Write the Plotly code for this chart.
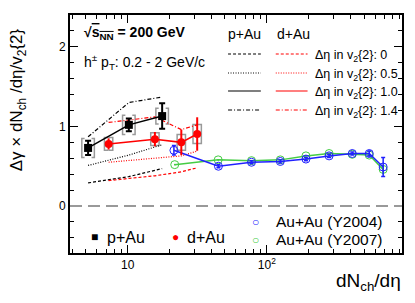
import plotly.graph_objects as go

# ---------------- data ----------------
pAu_x = [5.2, 10.2, 17.7]
pAu_y = [0.73, 1.02, 1.13]
pAu_err = [0.09, 0.08, 0.16]
pAu_sys = [0.12, 0.12, 0.10]
pAu_eta0 = [0.29, 0.37, 0.47]
pAu_eta05 = [0.51, 0.64, 0.77]
pAu_eta14 = [0.87, 1.30, 1.37]

dAu_x = [7.3, 15.7, 24.3, 31.6]
dAu_y = [0.78, 0.84, 0.80, 0.905]
dAu_err = [0.07, 0.09, 0.16, 0.21]
dAu_sys = [0.08, 0.08, 0.10, 0.12]
dAu_eta0 = [0.32, 0.38, 0.43, 0.48]
dAu_eta05 = [0.55, 0.60, 0.63, 0.69]
dAu_eta14 = [1.05, 1.12, 0.96, 1.02]

AuAu04_x = [21.5, 44.9, 77.6, 125, 191, 280, 411, 544, 685]
AuAu04_y = [0.70, 0.50, 0.55, 0.56, 0.59, 0.63, 0.66, 0.66, 0.49]
AuAu04_err = [0.06, 0.02, 0.02, 0.02, 0.02, 0.02, 0.02, 0.03, 0.12]

AuAu07_x = [21.8, 44.7, 77.6, 125, 191, 280, 411, 544, 685]
AuAu07_y = [0.52, 0.58, 0.57, 0.58, 0.63, 0.66, 0.65, 0.64, 0.46]
AuAu07_err = [0.01, 0.01, 0.01, 0.01, 0.01, 0.01, 0.01, 0.02, 0.06]

x_tickvals = [10, 100]
x_ticktext = ["10", "10<sup>2</sup>"]
y_tickvals = [0, 1, 2]

# ---------------- styles ----------------
BLACK = "#000000"
RED = "#ff0000"
BLUE = "#2020ff"
GREEN = "#44cc44"
GRAY = "#999999"
FONT = "Liberation Sans, Arial, sans-serif"
DASH0 = "3px,2px"
DASH05 = "1px,1.5px"
DASH14 = "4px,2px,1px,2px"
LW = 1.2

fig = go.Figure()


def brackets(xs, ys, sys, fac, arm):
    bx, by = [], []
    for x, y, s in zip(xs, ys, sys):
        xl, xr = x / fac, x * fac
        xla, xra = x / fac * arm, x * fac / arm
        bx += [xla, xl, xl, xla, None, xra, xr, xr, xra, None]
        by += [y + s, y + s, y - s, y - s, None, y + s, y + s, y - s, y - s, None]
    return bx, by


# systematic brackets
bx, by = brackets(pAu_x, pAu_y, pAu_sys, 10 ** 0.045, 10 ** 0.02)
fig.add_trace(go.Scatter(x=bx, y=by, mode="lines", line=dict(color=GRAY, width=1.5),
                         hoverinfo="skip", showlegend=False))
bx, by = brackets(dAu_x, dAu_y, dAu_sys, 10 ** 0.03, 10 ** 0.03)
fig.add_trace(go.Scatter(x=bx, y=by, mode="lines", line=dict(color=GRAY, width=1.5),
                         hoverinfo="skip", showlegend=False))

# delta-eta variant lines
for ys, dash in [(pAu_eta0, DASH0), (pAu_eta05, DASH05), (pAu_eta14, DASH14)]:
    fig.add_trace(go.Scatter(x=pAu_x, y=ys, mode="lines",
                             line=dict(color=BLACK, width=LW, dash=dash), showlegend=False))
for ys, dash in [(dAu_eta0, DASH0), (dAu_eta05, DASH05), (dAu_eta14, DASH14)]:
    fig.add_trace(go.Scatter(x=dAu_x, y=ys, mode="lines",
                             line=dict(color=RED, width=LW, dash=dash), showlegend=False))

# Au+Au
fig.add_trace(go.Scatter(x=AuAu07_x, y=AuAu07_y, mode="lines+markers",
                         line=dict(color=GREEN, width=1.5),
                         marker=dict(symbol="circle-open", size=8, color=GREEN, line=dict(width=1)),
                         error_y=dict(array=AuAu07_err, color=GREEN, thickness=1.5, width=0),
                         showlegend=False))
fig.add_trace(go.Scatter(x=AuAu04_x, y=AuAu04_y, mode="lines+markers",
                         line=dict(color=BLUE, width=1.5),
                         marker=dict(symbol="circle-open", size=8, color=BLUE, line=dict(width=1)),
                         error_y=dict(array=AuAu04_err, color=BLUE, thickness=1.5, width=2),
                         showlegend=False))

# d+Au and p+Au main points
fig.add_trace(go.Scatter(x=dAu_x, y=dAu_y, mode="lines+markers",
                         line=dict(color=RED, width=1.5),
                         marker=dict(symbol="circle", size=8, color=RED),
                         error_y=dict(array=dAu_err, color=RED, thickness=2, width=0),
                         showlegend=False))
fig.add_trace(go.Scatter(x=pAu_x, y=pAu_y, mode="lines+markers",
                         line=dict(color=BLACK, width=1.5),
                         marker=dict(symbol="square", size=8, color=BLACK),
                         error_y=dict(array=pAu_err, color=BLACK, thickness=2, width=3),
                         showlegend=False))

# ---------------- layout helpers (screen pixel -> paper) ----------------
OFF = 8                      # default page body margin
W, H = 415 - 2 * OFF, 303 - 2 * OFF
L, R, T, B = 70, 404, 15, 253  # plot frame in screen pixels


def px(x):
    return (x - L) / (R - L)


def py(y):
    return (B - y) / (B - T)


ann = []


def text(x, y, s, size, xanchor="left", color=BLACK, **kw):
    ann.append(dict(x=px(x), y=py(y), xref="paper", yref="paper", text=s, showarrow=False,
                    xanchor=xanchor, yanchor="middle", font=dict(size=size, color=color, family=FONT),
                    **kw))


text(82, 33, "<b>√<span style='text-decoration:overline'>s<sub>NN</sub></span> = 200 GeV</b>", 14)
text(82, 62, "h<sup>±</sup> p<sub>T</sub>: 0.2 - 2 GeV/c", 14)
text(227, 34, "p+Au", 14)
text(276, 34, "d+Au", 14)

shapes = []
rows = [(54, DASH0, "0"), (73, DASH05, "0.5"), (91, "solid", "1.0"), (110, DASH14, "1.4")]
for yy, dash, lab in rows:
    shapes.append(dict(type="line", xref="paper", yref="paper", x0=px(229), x1=px(262),
                       y0=py(yy), y1=py(yy), line=dict(color=BLACK, width=LW, dash=dash)))
    shapes.append(dict(type="line", xref="paper", yref="paper", x0=px(277), x1=px(309),
                       y0=py(yy), y1=py(yy), line=dict(color=RED, width=LW, dash=dash)))
    text(314, yy + 2, "Δη in v<sub>2</sub>{2}: " + lab, 12.5)

# zero line
shapes.append(dict(type="line", xref="paper", yref="y", x0=0, x1=1, y0=0, y1=0,
                   line=dict(color=GRAY, width=2, dash="12px,6px")))

# bottom legend
text(95, 237, "■", 12, xanchor="center")
text(105, 237, "p+Au", 16)
text(176, 237, "●", 12, xanchor="center", color=RED)
text(186, 237, "d+Au", 16)
text(257, 222, "○", 12, xanchor="center", color=BLUE)
text(275, 221, "Au+Au (Y2004)", 15.5)
text(257, 240, "○", 12, xanchor="center", color=GREEN)
text(275, 239, "Au+Au (Y2007)", 15.5)

# axis titles
text(405, 282, "dN<sub>ch</sub>/dη", 19, xanchor="right")
ann.append(dict(x=px(18), y=py(100), xref="paper", yref="paper",
                text="Δγ × dN<sub>ch</sub> /dη/v<sub>2</sub>{2}", showarrow=False, textangle=-90,
                xanchor="center", yanchor="middle", font=dict(size=17, color=BLACK, family=FONT)))

minor_x = [m * d for d in (1, 10, 100) for m in range(2, 10)]

fig.update_layout(
    width=W, height=H,
    margin=dict(l=L - OFF, r=OFF + W - R, t=T - OFF, b=OFF + H - B, pad=0),
    paper_bgcolor="white", plot_bgcolor="white",
    font=dict(family=FONT, color=BLACK),
    annotations=ann, shapes=shapes, showlegend=False,
    xaxis=dict(type="log", range=[0.586, 2.971], showgrid=False, zeroline=False,
               showline=True, linecolor=BLACK, linewidth=2, mirror="ticks",
               ticks="inside", ticklen=8, tickcolor=BLACK,
               tickvals=x_tickvals, ticktext=x_ticktext, tickfont=dict(size=12),
               minor=dict(tickvals=minor_x, ticks="inside", ticklen=4, tickcolor=BLACK, showgrid=False)),
    yaxis=dict(range=[-0.59, 2.40], showgrid=False, zeroline=False,
               showline=True, linecolor=BLACK, linewidth=2, mirror="ticks",
               ticks="inside", ticklen=8, tickcolor=BLACK,
               tickvals=y_tickvals, tickfont=dict(size=12),
               minor=dict(dtick=0.2, ticks="inside", ticklen=4, tickcolor=BLACK, showgrid=False)),
)

fig.write_html("out.html")
